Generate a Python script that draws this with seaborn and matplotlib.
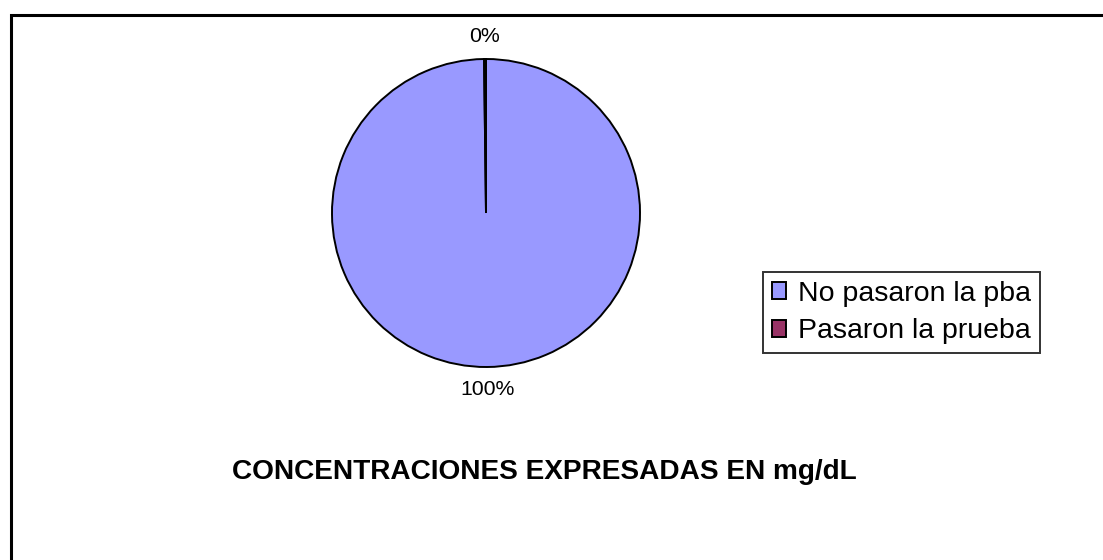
import matplotlib
matplotlib.use("Agg")
import matplotlib.pyplot as plt
import seaborn as sns
from matplotlib.patches import Rectangle

categories = ["No pasaron la pba", "Pasaron la prueba"]
values = [499, 1]
colors = ["#9999FF", "#993366"]
title = "CONCENTRACIONES EXPRESADAS EN mg/dL"

sns.set_theme(style="white")
plt.rcParams["font.family"] = ["Liberation Sans", "DejaVu Sans"]
plt.rcParams["text.color"] = "black"

W, H = 1103, 560
fig = plt.figure(figsize=(W / 100, H / 100), dpi=100)
fig.patch.set_facecolor("white")

# outer chart border
fig.patches.append(Rectangle((10.5 / W, -0.1), 1.2, 1 - 14.5 / H + 0.1,
                             transform=fig.transFigure, fill=False,
                             edgecolor="black", linewidth=2.2))

cx, cy, r = 486, 213, 154
ax = fig.add_axes([(cx - r) / W, (H - cy - r) / H, 2 * r / W, 2 * r / H])
wedges, texts, autotexts = ax.pie(
    values, colors=colors, startangle=90, counterclock=False,
    autopct="%1.0f%%", pctdistance=1.145,
    wedgeprops=dict(edgecolor="black", linewidth=1.4),
    textprops=dict(fontsize=15.3, color="black"))
ax.set_xlim(-1, 1)
ax.set_ylim(-1, 1)
ax.set_aspect("equal")
ax.axis("off")

fig.text(544 / W, 1 - 472 / H, title, ha="center", va="center",
         fontsize=20.2, fontweight="bold", color="black")

leg = fig.legend(wedges, categories, loc="upper left",
                 bbox_to_anchor=(763 / W, 1 - 272 / H),
                 fontsize=20.5, frameon=True, fancybox=False,
                 edgecolor="black", handlelength=0.5, handleheight=0.5,
                 handletextpad=0.43, labelspacing=0.42, borderpad=0.3,
                 borderaxespad=0, labelcolor="black")
leg.get_frame().set_linewidth(1.4)

fig.savefig("out.png", dpi=100, facecolor="white")
